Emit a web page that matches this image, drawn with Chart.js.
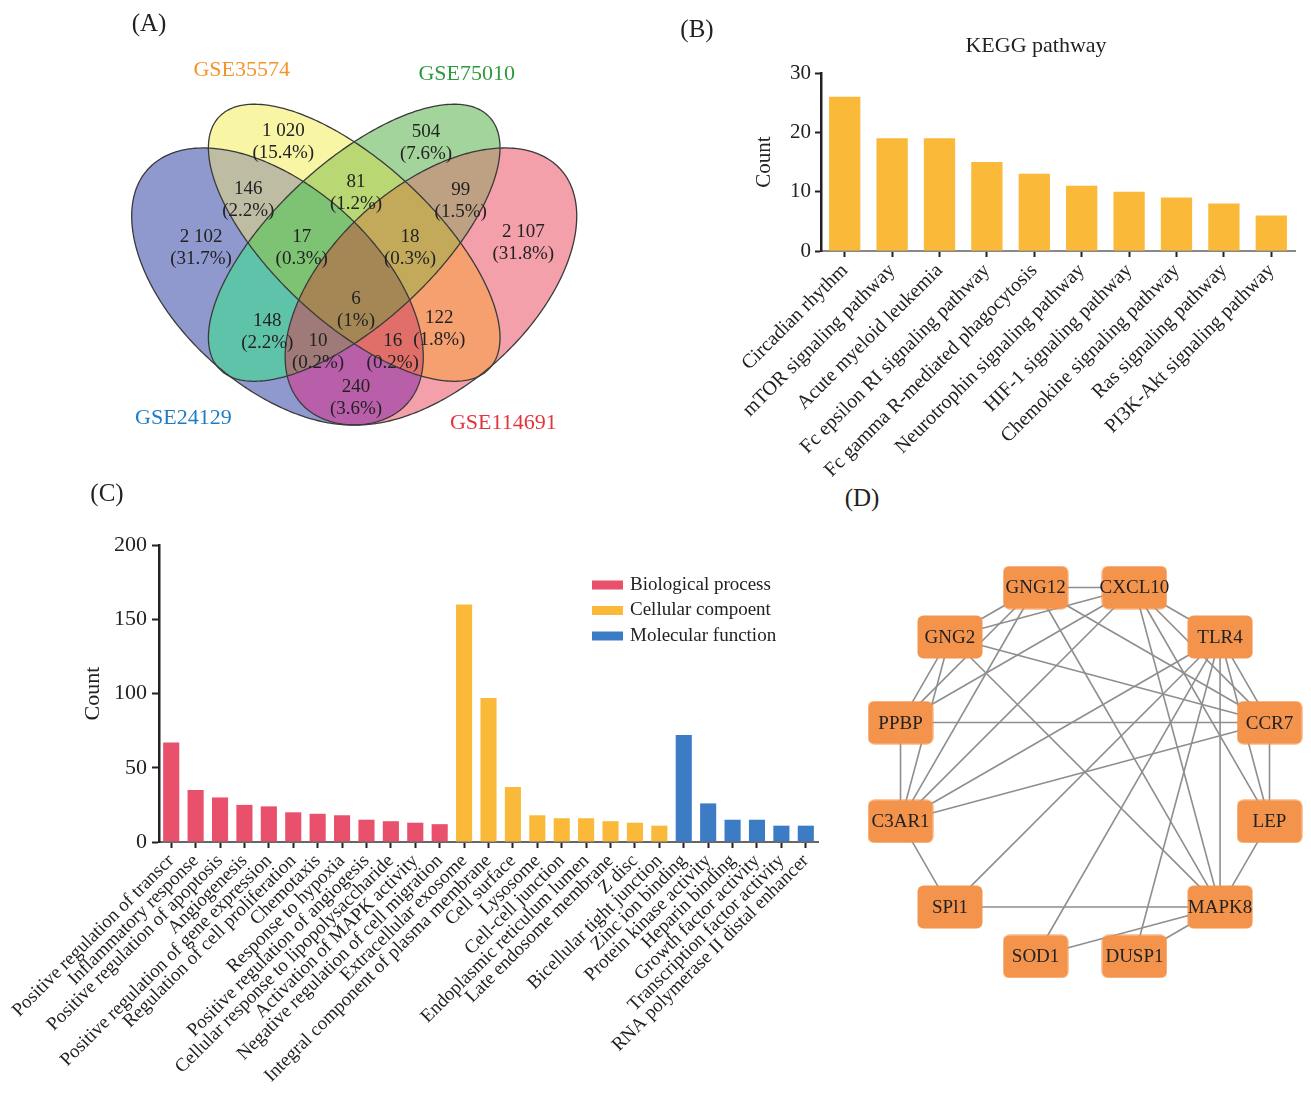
<!DOCTYPE html>
<html>
<head>
<meta charset="utf-8">
<script src="https://cdn.jsdelivr.net/npm/chart.js@4.4.0/dist/chart.umd.min.js"></script>
<style>
  html, body { margin: 0; padding: 0; background: #fff; overflow: hidden; }
  #page { position: relative; width: 1311px; height: 1095px; background: #fff; }
  #page canvas { position: absolute; }
  .tag { position: absolute; transform: translate(-50%, -50%); white-space: nowrap; line-height: 1;
         font-family: "Liberation Serif", "Times New Roman", Times, serif; color: #222; font-size: 25px; }
</style>
</head>
<body>
<div id="page">
  <canvas id="venn" width="650" height="470" style="left:0;top:0"></canvas>
  <canvas id="kegg" width="611" height="480" style="left:700px;top:0"></canvas>
  <canvas id="go" width="840" height="625" style="left:0;top:470px"></canvas>
  <canvas id="ppi" width="461" height="450" style="left:850px;top:550px"></canvas>
  <div class="tag" style="left:149px;top:22px">(A)</div>
  <div class="tag" style="left:697px;top:28px">(B)</div>
  <div class="tag" style="left:107px;top:492px">(C)</div>
  <div class="tag" style="left:862px;top:497px">(D)</div>
  <div class="tag" style="left:1036px;top:45px;font-size:22px">KEGG pathway</div>
</div>
<script>
// ---------------- data ----------------
// (A) four-dataset Venn: sets, region membership, counts and shares
const vennSetNames = ['GSE24129', 'GSE35574', 'GSE75010', 'GSE114691'];
const vennRegions  = ['A', 'B', 'C', 'D', 'AB', 'BC', 'CD', 'AC', 'BD', 'AD', 'ABC', 'BCD', 'ACD', 'ABD', 'ABCD'];
const vennCounts   = [2102, 1020, 504, 2107, 146, 81, 99, 148, 122, 240, 17, 18, 10, 16, 6];
const vennPercents = ['31.7%', '15.4%', '7.6%', '31.8%', '2.2%', '1.2%', '1.5%', '2.2%', '1.8%', '3.6%',
                      '0.3%', '0.3%', '0.2%', '0.2%', '1%'];

// (B) KEGG pathway enrichment
const keggPathways = ['Circadian rhythm', 'mTOR signaling pathway', 'Acute myeloid leukemia',
  'Fc epsilon RI signaling pathway', 'Fc gamma R-mediated phagocytosis', 'Neurotrophin signaling pathway',
  'HIF-1 signaling pathway', 'Chemokine signaling pathway', 'Ras signaling pathway', 'PI3K-Akt signaling pathway'];
const keggCounts = [26, 19, 19, 15, 13, 11, 10, 9, 8, 6];

// (C) GO enrichment, one list per ontology
const bpTerms = ['Positive regulation of transcr', 'Inflammatory response', 'Positive regulation of apoptosis',
  'Angiogenesis', 'Positive regulation of gene expression', 'Regulation of cell proliferation', 'Chemotaxis',
  'Response to hypoxia', 'Positive regulation of angiogesis', 'Cellular response to lipopolysaccharide',
  'Activation of MAPK activity', 'Negative regulation of cell migration'];
const bpCounts = [67, 35, 30, 25, 24, 20, 19, 18, 15, 14, 13, 12];
const ccTerms = ['Extracellular exosome', 'Integral component of plasma membrane', 'Cell surface', 'Lysosome',
  'Cell-cell junction', 'Endoplasmic reticulum lumen', 'Late endosome membrane', 'Z disc', 'Bicellular tight junction'];
const ccCounts = [160, 97, 37, 18, 16, 16, 14, 13, 11];
const mfTerms = ['Zinc ion binding', 'Protein kinase activity', 'Heparin binding', 'Growth factor activity',
  'Transcription factor activity', 'RNA polymerase II distal enhancer'];
const mfCounts = [72, 26, 15, 15, 11, 11];
const goSeriesNames = ['Biological process', 'Cellular compoent', 'Molecular function'];

// (D) protein-protein interaction network
const ppiNodes = ['GNG12', 'CXCL10', 'TLR4', 'CCR7', 'LEP', 'MAPK8', 'DUSP1', 'SOD1', 'SPl1', 'C3AR1', 'PPBP', 'GNG2'];
const ppiEdges = [
  ['GNG12', 'CXCL10'], ['GNG12', 'GNG2'], ['GNG12', 'PPBP'], ['GNG12', 'C3AR1'], ['GNG12', 'MAPK8'], ['GNG12', 'CCR7'],
  ['CXCL10', 'GNG2'], ['CXCL10', 'PPBP'], ['CXCL10', 'C3AR1'], ['CXCL10', 'TLR4'], ['CXCL10', 'CCR7'],
  ['CXCL10', 'LEP'], ['CXCL10', 'MAPK8'],
  ['GNG2', 'CCR7'], ['GNG2', 'MAPK8'], ['GNG2', 'PPBP'], ['GNG2', 'C3AR1'],
  ['PPBP', 'CCR7'], ['PPBP', 'C3AR1'],
  ['C3AR1', 'SPl1'], ['C3AR1', 'TLR4'], ['C3AR1', 'CCR7'],
  ['SPl1', 'TLR4'], ['SPl1', 'MAPK8'], ['SOD1', 'TLR4'], ['SOD1', 'MAPK8'], ['DUSP1', 'TLR4'], ['DUSP1', 'MAPK8'],
  ['MAPK8', 'TLR4'], ['MAPK8', 'LEP'], ['LEP', 'CCR7'], ['LEP', 'TLR4'], ['TLR4', 'CCR7']
];

// ---------------- shared styling ----------------
const SERIF = '"Liberation Serif", "Times New Roman", Times, serif';
const INK = '#222';
Chart.defaults.font.family = SERIF;
Chart.defaults.color = INK;
const BP_COLOR = '#E8506C', CC_COLOR = '#FBB93A', MF_COLOR = '#3C7CC5';

// ---------------- (A) Venn diagram ----------------
// ellipse geometry in the unit square of the Venn plot
const vennShapes = [
  { cx: 0.35, cy: 0.47, a: 0.35, b: 0.20, rot: -45 },  // A
  { cx: 0.50, cy: 0.56, a: 0.37, b: 0.16, rot: -45 },  // B
  { cx: 0.50, cy: 0.56, a: 0.37, b: 0.16, rot: 45 },   // C
  { cx: 0.65, cy: 0.47, a: 0.35, b: 0.20, rot: 45 }    // D
];
const vennRegionColors = ['#8F99CE', '#F8F5A5', '#A3D49B', '#F3A0AA', '#BEBDA3', '#B9D773', '#BEA082',
  '#5FC3AA', '#F5A06E', '#B95FAA', '#7DC373', '#C3AA5A', '#A07A78', '#E06E69', '#A58755'];
const vennLabelAnchor = {
  A: [0.2005, 0.549], B: [0.3614, 0.768], C: [0.6404, 0.765], D: [0.8306, 0.5595],
  AB: [0.293, 0.648], BC: [0.5035, 0.6624], CD: [0.7082, 0.646], AC: [0.3301, 0.3764],
  BD: [0.6664, 0.3815], AD: [0.5035, 0.2406], ABC: [0.3974, 0.549], BCD: [0.6091, 0.549],
  ACD: [0.4292, 0.3342], ABD: [0.5753, 0.3342], ABCD: [0.5035, 0.4217]
};
const vennSetLabelAnchor = [[0.166, 0.199], [0.28, 0.914], [0.72, 0.907], [0.7915, 0.188]];
const vennSetLabelColors = ['#1E7DC2', '#F2952C', '#2D9A3D', '#E3343E'];

const groupThousands = n => String(n).replace(/\B(?=(\d{3})+(?!\d))/g, ' ');

function ellipsePath(chart, e) {
  const xs = chart.scales.x, ys = chart.scales.y;
  const r = e.rot * Math.PI / 180, p = new Path2D();
  for (let k = 0; k <= 360; k++) {
    const t = 2 * Math.PI * k / 360;
    const u = e.a * Math.cos(t), v = e.b * Math.sin(t);
    const px = xs.getPixelForValue(e.cx + u * Math.cos(r) - v * Math.sin(r));
    const py = ys.getPixelForValue(e.cy + u * Math.sin(r) + v * Math.cos(r));
    k === 0 ? p.moveTo(px, py) : p.lineTo(px, py);
  }
  p.closePath();
  return p;
}

const vennPlugin = {
  id: 'vennRegions',
  beforeDatasetsDraw(chart) {
    const ctx = chart.ctx, W = chart.width, H = chart.height;
    const paths = vennShapes.map(e => ellipsePath(chart, e));
    const letters = 'ABCD';
    vennRegions.forEach((reg, ri) => {
      ctx.save();
      for (let i = 0; i < 4; i++) {
        if (reg.includes(letters[i])) {
          ctx.clip(paths[i]);
        } else {
          const outside = new Path2D();
          outside.rect(-10, -10, W + 20, H + 20);
          outside.addPath(paths[i]);
          ctx.clip(outside, 'evenodd');
        }
      }
      ctx.fillStyle = vennRegionColors[ri];
      ctx.fillRect(0, 0, W, H);
      ctx.restore();
    });
    ctx.save();
    ctx.strokeStyle = '#3a3a3a';
    ctx.lineWidth = 1.3;
    paths.forEach(p => ctx.stroke(p));
    ctx.restore();
  },
  afterDatasetsDraw(chart) {
    const ctx = chart.ctx, meta = chart.getDatasetMeta(0);
    const xs = chart.scales.x, ys = chart.scales.y;
    ctx.save();
    ctx.textAlign = 'center';
    ctx.textBaseline = 'middle';
    ctx.fillStyle = INK;
    ctx.font = '19px ' + SERIF;
    meta.data.forEach((pt, i) => {
      ctx.fillText(groupThousands(vennCounts[i]), pt.x, pt.y - 11);
      ctx.fillText('(' + vennPercents[i] + ')', pt.x, pt.y + 11);
    });
    ctx.font = '22px ' + SERIF;
    vennSetNames.forEach((name, i) => {
      ctx.fillStyle = vennSetLabelColors[i];
      ctx.fillText(name, xs.getPixelForValue(vennSetLabelAnchor[i][0]), ys.getPixelForValue(vennSetLabelAnchor[i][1]));
    });
    ctx.restore();
  }
};

new Chart(document.getElementById('venn'), {
  type: 'scatter',
  data: { datasets: [{ data: vennRegions.map(r => ({ x: vennLabelAnchor[r][0], y: vennLabelAnchor[r][1] })), pointRadius: 0 }] },
  options: {
    responsive: false, animation: false, devicePixelRatio: 1,
    layout: { padding: 0, autoPadding: false },
    plugins: { legend: { display: false }, tooltip: { enabled: false } },
    scales: {
      x: { type: 'linear', display: false, min: -0.1925, max: 1.0783 },
      y: { type: 'linear', display: false, min: 0.0924, max: 1.0595 }
    }
  },
  plugins: [vennPlugin]
});

// ---------------- (B) KEGG bar chart ----------------
new Chart(document.getElementById('kegg'), {
  type: 'bar',
  data: {
    labels: keggPathways,
    datasets: [{ data: keggCounts, backgroundColor: CC_COLOR, barPercentage: 0.66, categoryPercentage: 1 }]
  },
  options: {
    responsive: false, animation: false, devicePixelRatio: 1,
    layout: { padding: { top: 73, right: 16, left: 0, bottom: 0 } },
    plugins: { legend: { display: false }, tooltip: { enabled: false } },
    scales: {
      x: {
        grid: { display: true, drawOnChartArea: false, drawTicks: true, tickLength: 6, tickColor: INK, tickWidth: 2, offset: false },
        border: { display: true, color: '#888', width: 2 },
        ticks: { minRotation: 45, maxRotation: 45, autoSkip: false, padding: 2, color: INK, font: { family: SERIF, size: 20 } },
        afterFit(s) { s.height = 229; }
      },
      y: {
        min: 0, max: 30,
        ticks: { stepSize: 10, color: INK, padding: 4, font: { family: SERIF, size: 21 } },
        grid: { drawOnChartArea: false, drawTicks: true, tickLength: 6, tickColor: INK, tickWidth: 2 },
        border: { display: true, color: INK, width: 2.5 },
        title: { display: true, text: 'Count', color: INK, font: { family: SERIF, size: 21 }, padding: { top: 52, bottom: 0 } },
        afterFit(s) { s.width = 121; }
      }
    }
  }
});

// ---------------- (C) GO bar chart ----------------
const goLabels = [...bpTerms, ...ccTerms, ...mfTerms];
const padNulls = n => new Array(n).fill(null);
const goData = [
  [...bpCounts, ...padNulls(ccTerms.length + mfTerms.length)],
  [...padNulls(bpTerms.length), ...ccCounts, ...padNulls(mfTerms.length)],
  [...padNulls(bpTerms.length + ccTerms.length), ...mfCounts]
];
const goColors = [BP_COLOR, CC_COLOR, MF_COLOR];

const goLegend = {
  id: 'goLegend',
  afterDraw(chart, args, opts) {
    const ctx = chart.ctx;
    ctx.save();
    ctx.font = '19px ' + SERIF;
    ctx.textBaseline = 'middle';
    ctx.textAlign = 'left';
    chart.data.datasets.forEach((ds, i) => {
      const y = opts.y + i * opts.gap;
      ctx.fillStyle = ds.backgroundColor;
      ctx.fillRect(opts.x, y - 4.5, 31, 9);
      ctx.fillStyle = INK;
      ctx.fillText(ds.label, opts.x + 38, y);
    });
    ctx.restore();
  }
};

new Chart(document.getElementById('go'), {
  type: 'bar',
  data: {
    labels: goLabels,
    datasets: goSeriesNames.map((name, i) => ({
      label: name, data: goData[i], backgroundColor: goColors[i],
      grouped: false, barPercentage: 0.66, categoryPercentage: 1
    }))
  },
  options: {
    responsive: false, animation: false, devicePixelRatio: 1,
    layout: { padding: { top: 75, right: 22, left: 0, bottom: 0 } },
    plugins: { legend: { display: false }, tooltip: { enabled: false }, goLegend: { x: 592, y: 115, gap: 25.5 } },
    scales: {
      x: {
        grid: { display: true, drawOnChartArea: false, drawTicks: true, tickLength: 6, tickColor: INK, tickWidth: 2, offset: false },
        border: { display: true, color: '#666', width: 2 },
        ticks: { minRotation: 45, maxRotation: 45, autoSkip: false, padding: 2, color: INK, font: { family: SERIF, size: 19 } },
        afterFit(s) { s.height = 253; }
      },
      y: {
        min: 0, max: 200,
        ticks: { stepSize: 50, color: INK, padding: 5, font: { family: SERIF, size: 22 } },
        grid: { drawOnChartArea: false, drawTicks: true, tickLength: 7, tickColor: INK, tickWidth: 2 },
        border: { display: true, color: INK, width: 2.5 },
        title: { display: true, text: 'Count', color: INK, font: { family: SERIF, size: 22 }, padding: { top: 80, bottom: 0 } },
        afterFit(s) { s.width = 159; }
      }
    }
  },
  plugins: [goLegend]
});

// ---------------- (D) interaction network ----------------
// nodes are placed on a circle, starting upper-left of top and stepping clockwise
const ppiIndex = Object.fromEntries(ppiNodes.map((n, i) => [n, i]));
const ppiLayout = ppiNodes.map((n, i) => {
  const ang = (105 - 30 * i) * Math.PI / 180;
  return { x: Math.cos(ang), y: Math.sin(ang) };
});

function nodeBox(w, h, r, color) {
  const c = document.createElement('canvas');
  c.width = w; c.height = h;
  const g = c.getContext('2d');
  g.fillStyle = color;
  g.beginPath();
  g.roundRect(0.5, 0.5, w - 1, h - 1, r);
  g.fill();
  return c;
}

const ppiPlugin = {
  id: 'ppiGraph',
  beforeDatasetsDraw(chart) {
    const ctx = chart.ctx, pts = chart.getDatasetMeta(0).data;
    ctx.save();
    ctx.strokeStyle = '#8e8e8e';
    ctx.lineWidth = 1.6;
    ppiEdges.forEach(([a, b]) => {
      const p = pts[ppiIndex[a]], q = pts[ppiIndex[b]];
      ctx.beginPath();
      ctx.moveTo(p.x, p.y);
      ctx.lineTo(q.x, q.y);
      ctx.stroke();
    });
    ctx.restore();
  },
  afterDatasetsDraw(chart) {
    const ctx = chart.ctx, pts = chart.getDatasetMeta(0).data;
    ctx.save();
    ctx.font = '19px ' + SERIF;
    ctx.fillStyle = INK;
    ctx.textAlign = 'center';
    ctx.textBaseline = 'middle';
    pts.forEach((p, i) => ctx.fillText(ppiNodes[i], p.x, p.y + 1));
    ctx.restore();
  }
};

new Chart(document.getElementById('ppi'), {
  type: 'scatter',
  data: {
    datasets: [{
      data: ppiLayout,
      pointStyle: nodeBox(66, 44, 6, '#F4934C'),
      pointRadius: 22, clip: false
    }]
  },
  options: {
    responsive: false, animation: false, devicePixelRatio: 1,
    layout: { padding: 0, autoPadding: false },
    plugins: { legend: { display: false }, tooltip: { enabled: false } },
    scales: {
      x: { type: 'linear', display: false, min: -1.2304, max: 1.1832 },
      y: { type: 'linear', display: false, min: -1.1937, max: 1.1623 }
    }
  },
  plugins: [ppiPlugin]
});
</script>
</body>
</html>
